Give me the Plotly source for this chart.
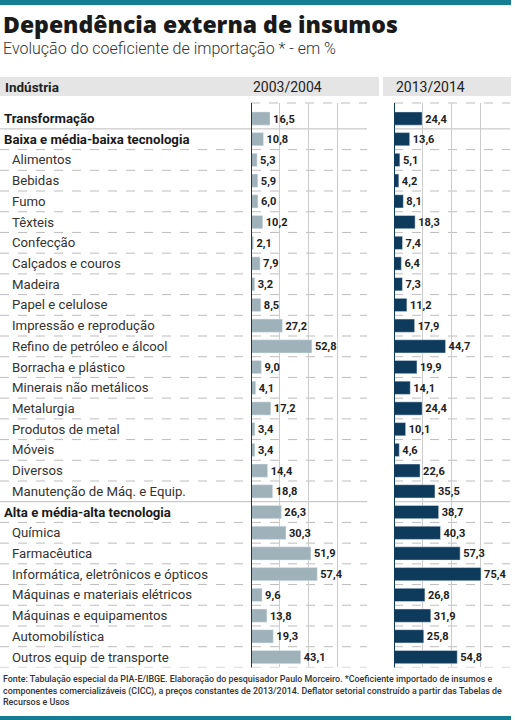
#Plotly importing to be able to graph
import plotly.graph_objects as go

#Data: industries and import coefficients (%) for two periods
industries = ['Transformação', 'Baixa e média-baixa tecnologia', 'Alimentos', 'Bebidas', 'Fumo',
              'Têxteis', 'Confecção', 'Calçados e couros', 'Madeira', 'Papel e celulose',
              'Impressão e reprodução', 'Refino de petróleo e álcool', 'Borracha e plástico',
              'Minerais não metálicos', 'Metalurgia', 'Produtos de metal', 'Móveis', 'Diversos',
              'Manutenção de Máq. e Equip.', 'Alta e média-alta tecnologia', 'Química',
              'Farmacêutica', 'Informática, eletrônicos e ópticos', 'Máquinas e materiais elétricos',
              'Máquinas e equipamentos', 'Automobilística', 'Outros equip de transporte']
groups = ['Transformação', 'Baixa e média-baixa tecnologia', 'Alta e média-alta tecnologia']
coef_2003 = [16.5, 10.8, 5.3, 5.9, 6.0, 10.2, 2.1, 7.9, 3.2, 8.5, 27.2, 52.8, 9.0, 4.1, 17.2,
             3.4, 3.4, 14.4, 18.8, 26.3, 30.3, 51.9, 57.4, 9.6, 13.8, 19.3, 43.1]
coef_2013 = [24.4, 13.6, 5.1, 4.2, 8.1, 18.3, 7.4, 6.4, 7.3, 11.2, 17.9, 44.7, 19.9, 14.1, 24.4,
             10.1, 4.6, 22.6, 35.5, 38.7, 40.3, 57.3, 75.4, 26.8, 31.9, 25.8, 54.8]
periods = ['2003/2004', '2013/2014']

title = 'Dependência externa de insumos'
subtitle = 'Evolução do coeficiente de importação * - em %'
source = ('Fonte: Tabulação especial da PIA-E/IBGE. Elaboração do pesquisador Paulo Morceiro. *Coeficiente importado de insumos e<br>'
          'componentes comercializáveis (CICC), a preços constantes de 2013/2014. Deflator setorial construído a partir das Tabelas de<br>'
          'Recursos e Usos')

W, H = 515, 720
LABEL_FONT = 'Roboto'
TEAL = '#147d94'
GRAY_BAR = '#9fb2ba'
NAVY = '#0e3a5c'

def px(x):
    return x / W

def py(y):
    return 1 - y / H

left_dom = [px(251), px(367)]
right_dom = [px(394), px(510)]

fig = go.Figure()
fig.add_trace(go.Bar(x=coef_2003, y=industries, orientation='h', xaxis='x', yaxis='y',
                     marker_color=GRAY_BAR, texttemplate='%{x:.1f}', textposition='outside',
                     textfont=dict(family='Roboto', size=12.5, color='#222', weight='bold'),
                     cliponaxis=False, width=0.64, hoverinfo='skip'))
fig.add_trace(go.Bar(x=coef_2013, y=industries, orientation='h', xaxis='x2', yaxis='y',
                     marker_color=NAVY, texttemplate='%{x:.1f}', textposition='outside',
                     textfont=dict(family='Roboto', size=12.5, color='#222', weight='bold'),
                     cliponaxis=False, width=0.64, hoverinfo='skip'))

axis_style = dict(range=[0, 100.5], tickvals=[25, 50, 75, 100], showticklabels=False,
                  showgrid=True, gridcolor='#cccccc', gridwidth=1, zeroline=False, fixedrange=True)
fig.update_layout(
    width=W, height=H, margin=dict(l=0, r=0, t=0, b=0),
    paper_bgcolor='white', plot_bgcolor='white', showlegend=False,
    separators=',.',
    xaxis=dict(domain=left_dom, anchor='y', **axis_style),
    xaxis2=dict(domain=right_dom, anchor='y', **axis_style),
    yaxis=dict(domain=[py(667.4), py(103)], range=[len(industries) - 0.5, -0.75],
               categoryorder='array', categoryarray=industries, fixedrange=True,
               showticklabels=False, showgrid=False, zeroline=False),
)

shapes = []
# teal bands top and bottom
shapes.append(dict(type='rect', xref='paper', yref='paper', x0=0, x1=px(511), y0=py(5), y1=1,
                   fillcolor=TEAL, line_width=0))
shapes.append(dict(type='rect', xref='paper', yref='paper', x0=0, x1=px(511), y0=0, y1=py(716),
                   fillcolor=TEAL, line_width=0))
# header band
shapes.append(dict(type='rect', xref='paper', yref='paper', x0=0, x1=px(379), y0=py(96), y1=py(77),
                   fillcolor='#e5e5e5', line_width=0))
shapes.append(dict(type='rect', xref='paper', yref='paper', x0=px(383), x1=px(511), y0=py(96), y1=py(77),
                   fillcolor='#e5e5e5', line_width=0))
# row separators
for i, name in enumerate(industries):
    nxt = industries[i + 1] if i + 1 < len(industries) else None
    solid = i == 0 or nxt == groups[2]
    style = dict(color='#bdbdbd', width=1, dash='solid' if solid else 'dash')
    shapes.append(dict(type='line', xref='paper', yref='y', x0=0, x1=left_dom[1], y0=i + 0.5, y1=i + 0.5,
                       line=style, layer='below'))
    shapes.append(dict(type='line', xref='paper', yref='y', x0=right_dom[0], x1=right_dom[1], y0=i + 0.5, y1=i + 0.5,
                       line=style, layer='below'))
# panel tops and zero lines
for xr, col in [('x', '#333333'), ('x2', NAVY)]:
    shapes.append(dict(type='line', xref=xr + ' domain', yref='y domain', x0=0, x1=1, y0=1, y1=1,
                       line=dict(color='#bdbdbd', width=1, dash='dash'), layer='below'))
    shapes.append(dict(type='line', xref=xr, yref='y domain', x0=0, x1=0, y0=0, y1=1,
                       line=dict(color=col, width=2)))
fig.update_layout(shapes=shapes)

annotations = [
    dict(text=title, x=px(1), y=py(24), xanchor='left', yanchor='middle',
         font=dict(family='Open Sans', size=23, color='#1a1a1a', weight=800)),
    dict(text=subtitle, x=px(1), y=py(48.5), xanchor='left', yanchor='middle',
         font=dict(family='Roboto', size=16, color='#333', weight=300)),
    dict(text='<b>Indústria</b>', x=px(3), y=py(86.5), xanchor='left', yanchor='middle',
         font=dict(family=LABEL_FONT, size=13.5, color='#222')),
    dict(text=periods[0], x=px(251), y=py(86.5), xanchor='left', yanchor='middle',
         font=dict(family='Roboto', size=14, color='#222')),
    dict(text=periods[1], x=px(394), y=py(86.5), xanchor='left', yanchor='middle',
         font=dict(family='Roboto', size=14, color='#222')),
    dict(text=source, x=px(1), y=py(672), xanchor='left', yanchor='top', align='left',
         font=dict(family=LABEL_FONT, size=8.9, color='#333', weight=500)),
]
for name in industries:
    if name in groups:
        annotations.append(dict(text='<b>' + name + '</b>', x=px(2), y=name, yref='y', xanchor='left',
                                yanchor='middle', font=dict(family=LABEL_FONT, size=13.2, color='#1a1a1a')))
    else:
        annotations.append(dict(text=name, x=px(10), y=name, yref='y', xanchor='left',
                                yanchor='middle', font=dict(family=LABEL_FONT, size=13.2, color='#333')))
for a in annotations:
    a.setdefault('xref', 'paper')
    a.setdefault('yref', 'paper')
    a['showarrow'] = False
fig.update_layout(annotations=annotations)

# page body margin off so the figure sits at the window corner
fig.write_html("out.html", config={'displayModeBar': False},
               post_script="document.body.style.margin='0';")
